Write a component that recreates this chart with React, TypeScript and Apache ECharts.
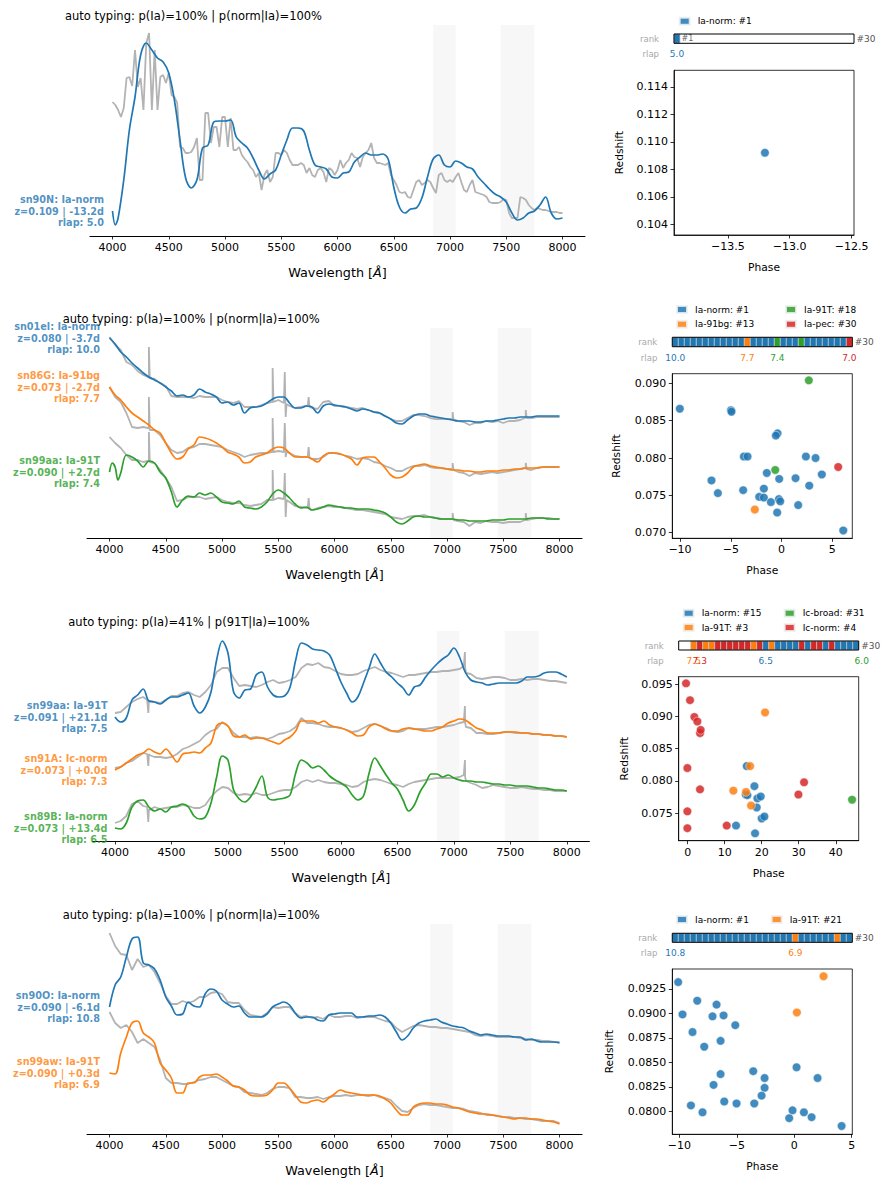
import React, { useEffect, useRef } from "react";
import * as echarts from "echarts";

const FONT = "'DejaVu Sans', 'Liberation Sans', sans-serif";
const TAB = ["#1f77b4", "#ff7f0e", "#2ca02c", "#d62728"];
const OBS_COLOR = "#b3b3b3";
const W_START = 4000;
const WAVE_TICKS = [4000, 4500, 5000, 5500, 6000, 6500, 7000, 7500, 8000];
const BANDS = [[6850, 7050], [7450, 7750]];

// ---------- Row 1 (relative flux, arbitrary units) ----------
const R1_TITLE = "auto typing: p(Ia)=100% | p(norm|Ia)=100%";
// observed, 25 A sampling from 4000
const R1_OBS = [134,131,126,119,128,158,159,150,186,149,158,126,193,203,126,186,126,159,161,153,
163,141,139,133,89,88,83,83,84,89,98,56,56,123,123,93,109,109,89,119,
119,89,118,86,86,89,81,77,74,69,66,59,63,46,61,66,54,59,83,83,
81,86,83,76,71,71,71,73,71,63,68,61,59,66,68,64,54,68,66,61,
66,76,68,73,76,83,79,78,69,79,83,86,93,78,73,73,72,71,73,61,
56,51,44,43,44,39,38,46,54,56,51,53,56,54,48,43,61,63,56,54,
56,54,59,63,54,46,44,51,56,44,43,42,41,39,34,33,33,33,34,37,
36,23,18,18,18,39,38,36,31,28,26,28,27,26,26,25,24,24,24,23,23];
// template, 50 A sampling from 4000
const R1_TPL = [25,18,56,106,139,181,193,186,178,174,163,136,96,58,48,56,88,91,114,115,
115,116,99,93,88,78,66,57,62,66,81,96,108,108,105,86,71,69,67,59,
58,63,64,74,79,83,81,81,82,77,49,29,23,27,28,38,59,77,81,71,
69,75,73,69,67,59,53,47,42,39,34,23,16,18,23,25,31,39,23,17,18];
const R1_TPL_EXTRA = [[4025, 11]];
const R1_LABELS = [["sn90N: Ia-norm", "z=0.109 | -13.2d", "rlap: 5.0"]];
const R1_TYPES = ["Ia-norm: #1"];
const R1_S_IANORM = [[-13.2, 0.1092]];
const R1_RANKS = [0,-1,-1,-1,-1,-1,-1,-1,-1,-1,-1,-1,-1,-1,-1,-1,-1,-1,-1,-1,-1,-1,-1,-1,-1,-1,-1,-1,-1,-1];
const R1_RLAP = [[1, 5.0, 0]];

// ---------- Row 2 ----------
const R2_TITLE = "auto typing: p(Ia)=100% | p(norm|Ia)=100%";
const R2_OBS_A = [201,193,188,176,173,167,163,160,159,155,152,142,141,141,141,140,142,141,141,141,
138,136,135,137,131,131,131,133,135,136,138,135,132,130,131,132,130,129,136,137,
132,132,131,130,129,130,128,126,125,122,119,117,117,120,123,123,122,120,119,119,
119,118,117,116,113,115,115,117,116,117,115,117,117,118,121,120,121,121,121,121,121];
const R2_SPK_A = [[4342,161],[4350,191],[4358,160],[5442,136],[5450,170],[5458,136],[5552,135],[5558,166],[5566,121],[5574,134],[5762,132],[5770,141],[5778,131],[7042,119],[7050,126],[7058,118],[7692,120],[7700,128],[7708,120]];
const R2_OBS_B = [151,141,136,125,111,110,111,110,108,103,95,88,85,86,90,91,94,94,93,92,
91,88,86,84,81,83,84,85,85,86,87,86,85,82,81,81,79,79,81,85,
85,84,82,81,79,80,79,76,75,72,70,67,67,70,72,72,73,71,70,70,
69,69,66,65,62,65,64,65,66,65,66,67,68,69,70,68,70,71,71,71,71];
const R2_SPK_B = [[4342,110],[4350,141],[4358,108],[5442,86],[5450,120],[5458,86],[5552,86],[5558,115],[5566,81],[5574,86],[5762,81],[5770,91],[5778,80],[7042,69],[7050,75],[7058,68],[7692,70],[7700,75],[7708,69]];
const R2_OBS_C = [101,95,90,83,78,78,76,77,75,68,60,51,37,38,41,41,41,39,40,41,
38,36,35,35,33,32,33,34,38,38,40,39,36,32,31,30,28,30,31,32,
31,31,30,29,28,28,27,26,25,24,21,20,19,21,22,22,23,21,20,19,
19,19,17,16,12,16,15,17,16,16,15,16,16,16,18,19,20,20,20,19,19];
const R2_SPK_C = [[4342,77],[4350,106],[4358,76],[5442,38],[5450,68],[5458,38],[5552,39],[5558,65],[5566,21],[5574,38],[5762,30],[5770,40],[5778,29],[7042,19],[7050,25],[7058,18],[7692,18],[7700,25],[7708,18]];
const R2_TPL_A = [200,194,186,181,175,170,165,161,158,155,151,147,142,143,141,143,149,146,144,141,
135,136,133,135,125,130,131,132,135,139,141,141,135,130,130,132,131,125,132,134,
133,132,131,129,127,129,128,126,125,122,119,115,114,118,122,124,124,122,121,120,
119,118,117,117,117,116,116,117,117,118,119,120,120,121,121,121,122,122,122,122,122];
const R2_TPL_B = [151,143,138,131,125,121,117,113,108,105,95,85,79,81,89,93,101,100,98,95,
91,86,84,81,75,76,81,83,85,89,91,90,85,81,81,81,79,76,82,85,
85,84,82,79,73,80,81,81,76,70,63,60,61,65,71,73,74,72,71,70,
69,68,68,67,67,66,66,67,67,67,68,68,69,69,70,70,70,71,71,71,71];
const R2_TPL_C = [66,71,65,83,81,77,71,77,75,66,60,46,31,38,42,41,45,43,45,41,
36,35,34,37,31,30,29,31,36,44,48,45,40,34,30,31,28,29,31,33,
32,31,30,30,29,29,29,28,27,25,21,16,14,17,21,22,21,21,20,19,
19,19,18,18,17,17,17,17,18,18,18,19,19,19,19,20,20,20,19,19,19];
const R2_TPL_C_EXTRA = [[4025,75],[4075,58]];
const R2_LABELS = [
  ["sn01el: Ia-norm", "z=0.080 | -3.7d", "rlap: 10.0"],
  ["sn86G: Ia-91bg", "z=0.073 | -2.7d", "rlap: 7.7"],
  ["sn99aa: Ia-91T", "z=0.090 | +2.7d", "rlap: 7.4"],
];
const R2_TYPES = ["Ia-norm: #1", "Ia-91bg: #13", "Ia-91T: #18", "Ia-pec: #30"];
const R2_S_IANORM = [[-10.02,0.0866],[-4.98,0.0864],[-4.93,0.0862],[-0.39,0.0833],[-0.56,0.0830],[-3.71,0.0802],[-3.35,0.0802],[2.40,0.0802],[3.35,0.0800],[-6.90,0.0770],[-1.45,0.0780],[-0.23,0.0772],[1.38,0.0773],[3.97,0.0778],[2.73,0.0763],[-1.74,0.0759],[-3.78,0.0757],[-6.27,0.0753],[-2.20,0.0748],[-1.74,0.0747],[-0.26,0.0745],[-0.13,0.0742],[-1.05,0.0741],[1.64,0.0737],[-0.43,0.0727],[6.08,0.0703]];
const R2_S_91BG = [[-2.63, 0.0731]];
const R2_S_91T = [[2.69, 0.0904], [-0.62, 0.0784]];
const R2_S_PEC = [[5.58, 0.0788]];
const R2_RANKS = [0,0,0,0,0,0,0,0,0,0,0,0,1,0,0,0,0,2,0,0,0,2,0,0,0,0,0,0,0,3];
const R2_RLAP = [[1,10.0,0],[13,7.7,1],[18,7.4,2],[30,7.0,3]];

// ---------- Row 3 ----------
const R3_TITLE = "auto typing: p(Ia)=41% | p(91T|Ia)=100%";
const R3_OBS_A = [128,129,134,139,142,144,139,139,138,141,145,145,148,149,146,144,149,156,169,173,
173,163,155,156,155,154,156,159,161,158,159,161,164,173,177,176,178,174,173,170,
167,166,166,167,170,172,174,171,169,168,166,164,166,166,167,168,169,169,170,170,
171,172,173,167,163,162,163,164,164,163,161,161,162,161,162,162,161,160,160,159,158];
const R3_SPK_A = [[4285,141],[4295,128],[4305,140],[7088,175],[7098,189],[7108,168]];
const R3_OBS_B = [73,74,78,80,84,88,87,84,84,83,84,87,92,94,97,100,106,110,112,119,
115,108,104,104,103,104,103,102,104,107,108,110,114,123,118,118,117,115,114,114,
113,111,109,110,113,116,117,115,113,110,109,110,113,112,112,112,113,114,114,115,
116,118,118,113,108,108,107,107,108,109,109,108,108,108,107,107,106,106,105,105,104];
const R3_SPK_B = [[4285,87],[4295,75],[4305,86],[7088,119],[7098,135],[7108,114]];
const R3_OBS_C = [18,20,25,37,40,35,32,34,32,33,34,34,36,35,33,33,36,44,50,54,
53,48,46,47,46,48,46,46,48,50,51,51,54,59,61,59,61,59,58,58,
57,56,54,55,59,61,62,61,59,57,56,54,57,59,60,61,62,63,63,63,
63,64,64,58,56,53,54,56,55,54,53,53,54,53,52,52,51,51,50,50,50];
const R3_SPK_C = [[4285,34],[4295,19],[4305,31],[7088,66],[7098,81],[7108,60]];
const R3_TPL_A = [124,119,123,141,146,152,140,139,137,141,144,144,146,148,135,128,134,149,181,200,
188,149,143,151,152,166,169,154,146,144,145,154,181,198,196,192,191,190,186,173,
159,148,139,144,158,173,187,178,169,164,158,153,146,154,156,164,171,177,182,186,
193,184,169,161,159,158,156,157,158,158,158,158,160,164,164,165,168,169,169,167,164];
const R3_TPL_B = [71,74,78,82,86,88,92,89,87,92,86,79,87,88,89,88,93,98,115,118,
115,105,104,106,102,103,103,101,99,97,101,104,110,120,120,120,118,120,116,114,
113,111,108,105,106,114,117,115,112,110,110,112,113,112,111,110,110,112,114,118,
120,122,121,117,113,111,108,108,108,109,109,109,108,108,107,107,106,106,105,105,104];
const R3_TPL_C = [13,12,18,34,40,41,34,30,32,29,34,35,37,34,25,22,24,38,64,85,
81,51,42,39,44,54,65,44,41,42,43,46,68,81,78,73,75,71,65,61,
58,54,46,41,45,68,83,75,66,58,52,41,30,36,49,58,67,67,64,66,
63,61,60,60,59,59,58,57,57,56,56,55,55,55,54,53,53,52,51,51,50];
const R3_LABELS = [
  ["sn99aa: Ia-91T", "z=0.091 | +21.1d", "rlap: 7.5"],
  ["sn91A: Ic-norm", "z=0.073 | +0.0d", "rlap: 7.3"],
  ["sn89B: Ia-norm", "z=0.073 | +13.4d", "rlap: 6.5"],
];
const R3_TYPES = ["Ia-norm: #15", "Ia-91T: #3", "Ic-broad: #31", "Ic-norm: #4"];
const R3_S_IANORM = [[15.95,0.0823],[18.02,0.0792],[15.68,0.0779],[16.13,0.0778],[18.83,0.0773],[19.73,0.0776],[18.65,0.0759],[20.0,0.0742],[20.72,0.0745],[13.06,0.0731],[18.2,0.0719]];
const R3_S_91T = [[20.90,0.0906],[16.85,0.0823],[12.34,0.0785],[15.77,0.0783],[17.12,0.0762]];
const R3_S_ICBROAD = [[44.41, 0.0771]];
const R3_S_ICNORM = [[-0.45,0.0951],[0.63,0.0925],[1.80,0.0899],[2.61,0.0892],[3.33,0.0874],[3.51,0.0879],[-0.09,0.0820],[3.33,0.0787],[-0.09,0.0753],[-0.09,0.0727],[10.54,0.0731],[29.91,0.0779],[31.44,0.0798]];
const R3_RANKS = [-1,-1,1,3,1,1,3,3,3,3,3,3,1,3,0,1,0,0,0,0,3,0,3,3,0,3,0,0,0,0];
const R3_RLAP = [[3,7.5,1],[4,7.3,3],[15,6.5,0],[31,6.0,2]];

// ---------- Row 4 ----------
const R4_TITLE = "auto typing: p(Ia)=100% | p(norm|Ia)=100%";
const R4_OBS_A = [201,188,180,179,164,175,167,169,162,151,138,130,130,133,131,133,137,137,141,142,
140,132,131,131,124,119,118,117,121,127,126,127,127,121,117,118,116,117,115,119,
117,117,118,118,116,117,117,117,115,113,112,106,102,105,108,109,108,107,107,106,
106,105,104,103,102,99,98,99,98,97,97,97,97,96,95,94,94,93,93,92,92];
const R4_OBS_B = [122,111,106,109,102,91,95,91,87,74,56,51,51,50,50,52,54,55,57,57,
54,51,48,47,42,41,40,39,41,45,47,47,46,37,37,36,36,37,35,37,
38,38,39,38,39,39,38,39,37,36,34,28,23,22,26,29,30,29,29,28,
27,26,26,25,23,22,21,19,19,18,17,17,16,16,15,15,14,13,13,13,11];
const R4_TPL_A = [127,149,157,177,195,197,171,169,165,154,137,128,119,120,132,128,127,140,145,143,
134,130,127,128,121,117,117,117,120,127,130,132,129,121,116,117,117,114,113,119,
120,121,121,121,117,117,118,118,119,117,111,102,94,98,106,111,113,114,115,112,
110,108,107,106,103,101,99,100,99,98,98,98,97,97,94,95,93,92,92,92,91];
const R4_TPL_B = [61,60,81,97,111,113,101,97,91,71,64,56,41,41,51,51,57,59,59,60,
57,53,48,47,44,39,38,38,39,44,51,51,46,39,32,31,33,34,32,36,
40,44,42,41,40,39,39,39,38,35,31,24,19,19,27,30,31,31,30,30,
29,27,26,24,22,21,20,20,19,18,17,16,15,16,16,15,15,14,13,12,10];
const R4_LABELS = [
  ["sn90O: Ia-norm", "z=0.090 | -6.1d", "rlap: 10.8"],
  ["sn99aw: Ia-91T", "z=0.090 | +0.3d", "rlap: 6.9"],
];
const R4_TYPES = ["Ia-norm: #1", "Ia-91T: #21"];
const R4_S_IANORM = [[-10.10,0.0932],[-9.72,0.0899],[-8.44,0.0913],[-8.85,0.0881],[-7.83,0.0866],[-7.11,0.0897],[-6.76,0.0909],[-6.15,0.0898],[-6.41,0.0872],[-5.13,0.0888],[-6.41,0.0838],[-7.02,0.0827],[-8.99,0.0806],[-7.98,0.0799],[-6.09,0.0810],[-5.02,0.0808],[-3.57,0.0841],[-2.58,0.0834],[-2.58,0.0824],[-2.84,0.0816],[-3.48,0.0808],[0.20,0.0845],[2.03,0.0834],[-0.15,0.0801],[-0.44,0.0793],[0.84,0.0799],[1.51,0.0794],[4.12,0.0785]];
const R4_S_91T = [[0.23, 0.0901], [2.55, 0.0938]];
const R4_RANKS = [0,0,0,0,0,0,0,0,0,0,0,0,0,0,0,0,0,0,0,0,1,0,0,0,0,0,0,1,0,0];
const R4_RLAP = [[1,10.8,0],[21,6.9,1]];

const pairs = (vals: number[], step: number, extras: number[][] = []) =>
  vals.map((v, i) => [W_START + i * step, v]).concat(extras).sort((a, b) => a[0] - b[0]);

const ROWS = [
  {
    title: R1_TITLE, titleXY: [65, 16],
    spec: { left: 90, top: 25, width: 495, height: 211 },
    obs: [pairs(R1_OBS, 25)],
    tpl: [pairs(R1_TPL, 50, R1_TPL_EXTRA)], labels: R1_LABELS, labelDist: 8,
    scat: { left: 674, top: 70.3, width: 180, height: 164.7 },
    xr: [-13.935, -12.48], xt: [-13.5, -13.0, -12.5], xd: 1,
    yr: [0.10322, 0.1152], yt: [0.104, 0.106, 0.108, 0.11, 0.112, 0.114], yd: 3, yGap: 49.5,
    types: R1_TYPES, pts: [R1_S_IANORM],
    bar: { left: 674, top: 34, width: 180, height: 9.3 }, ranks: R1_RANKS, rlap: R1_RLAP, rlapOff: 10.7,
    legendXY: [[678.7, 22.7]],
  },
  {
    title: R2_TITLE, titleXY: [62.7, 319],
    spec: { left: 87, top: 328, width: 495, height: 210 },
    obs: [pairs(R2_OBS_A, 50, R2_SPK_A), pairs(R2_OBS_B, 50, R2_SPK_B), pairs(R2_OBS_C, 50, R2_SPK_C)],
    tpl: [pairs(R2_TPL_A, 50), pairs(R2_TPL_B, 50), pairs(R2_TPL_C, 50, R2_TPL_C_EXTRA)], labels: R2_LABELS, labelDist: 9,
    scat: { left: 672.3, top: 373.7, width: 180, height: 164.6 },
    xr: [-10.76, 6.97], xt: [-10, -5, 0, 5], xd: 0,
    yr: [0.06925, 0.09129], yt: [0.07, 0.075, 0.08, 0.085, 0.09], yd: 3, yGap: 50.5,
    types: R2_TYPES, pts: [R2_S_IANORM, R2_S_91BG, R2_S_91T, R2_S_PEC],
    bar: { left: 672.3, top: 337.3, width: 180, height: 9.4 }, ranks: R2_RANKS, rlap: R2_RLAP, rlapOff: 11,
    legendXY: [[676, 311], [676, 325.7], [785, 311], [785, 325.7]],
  },
  {
    title: R3_TITLE, titleXY: [68.3, 622],
    spec: { left: 92.4, top: 631, width: 497, height: 210 },
    obs: [pairs(R3_OBS_A, 50, R3_SPK_A), pairs(R3_OBS_B, 50, R3_SPK_B), pairs(R3_OBS_C, 50, R3_SPK_C)],
    tpl: [pairs(R3_TPL_A, 50), pairs(R3_TPL_B, 50), pairs(R3_TPL_C, 50)], labels: R3_LABELS, labelDist: 7,
    scat: { left: 678.7, top: 676.7, width: 180, height: 164 },
    xr: [-2.43, 46.2], xt: [0, 10, 20, 30, 40], xd: 0,
    yr: [0.07076, 0.09613], yt: [0.075, 0.08, 0.085, 0.09, 0.095], yd: 3, yGap: 49,
    types: R3_TYPES, pts: [R3_S_IANORM, R3_S_91T, R3_S_ICBROAD, R3_S_ICNORM],
    bar: { left: 678.7, top: 641, width: 180, height: 9 }, ranks: R3_RANKS, rlap: R3_RLAP, rlapOff: 10.7,
    legendXY: [[682.7, 614.7], [682.7, 629], [783.7, 614.7], [783.7, 629]],
  },
  {
    title: R4_TITLE, titleXY: [62.7, 915],
    spec: { left: 87, top: 924, width: 495, height: 210 },
    obs: [pairs(R4_OBS_A, 50), pairs(R4_OBS_B, 50)],
    tpl: [pairs(R4_TPL_A, 50), pairs(R4_TPL_B, 50)], labels: R4_LABELS, labelDist: 9,
    scat: { left: 672.3, top: 969, width: 180, height: 165.3 },
    xr: [-10.61, 5.05], xt: [-10, -5, 0, 5], xd: 0,
    yr: [0.07765, 0.09454], yt: [0.08, 0.0825, 0.085, 0.0875, 0.09, 0.0925], yd: 4, yGap: 57.5,
    types: R4_TYPES, pts: [R4_S_IANORM, R4_S_91T],
    bar: { left: 672.3, top: 933.3, width: 180, height: 9 }, ranks: R4_RANKS, rlap: R4_RLAP, rlapOff: 11,
    legendXY: [[676, 921], [770.7, 921]],
  },
];

const fmt = (v: number, d: number) => (v < -1e-9 ? "\u2212" : "") + Math.abs(v).toFixed(d);

function buildOption() {
  const grid: any[] = [];
  const xAxis: any[] = [];
  const yAxis: any[] = [];
  const series: any[] = [];
  const legend: any[] = [];
  const graphic: any[] = [];

  ROWS.forEach((row) => {
    // ---- spectrum panel ----
    const gS = grid.length;
    grid.push({ ...row.spec, show: false });
    xAxis.push({
      gridIndex: gS, type: "value", min: 3800, max: 8200,
      axisLine: { show: true, onZero: false, lineStyle: { color: "#000", width: 1 } },
      axisTick: { show: true, customValues: WAVE_TICKS, length: 3.5, lineStyle: { color: "#000", width: 0.8 } },
      axisLabel: { customValues: WAVE_TICKS, formatter: (v: number) => String(Math.round(v)), fontSize: 11, color: "#000", fontFamily: FONT, margin: 6 },
      splitLine: { show: false },
      name: "Wavelength [{i|Å}]", nameLocation: "middle", nameGap: 30,
      nameTextStyle: { fontSize: 12.8, color: "#000", fontFamily: FONT,
        rich: { i: { fontStyle: "italic", fontSize: 12.8, color: "#000", fontFamily: FONT } } },
    });
    yAxis.push({ gridIndex: gS, type: "value", min: 0, max: row.spec.height, show: false });

    row.obs.forEach((d, k) => {
      series.push({
        type: "line", xAxisIndex: gS, yAxisIndex: gS, data: d, showSymbol: false, symbol: "none",
        lineStyle: { color: OBS_COLOR, width: 1.8 }, z: 2, silent: true,
        ...(k === 0 ? { markArea: { silent: true, itemStyle: { color: "#f7f7f7" },
          data: BANDS.map((b) => [{ xAxis: b[0] }, { xAxis: b[1] }]) } } : {}),
      });
    });
    row.tpl.forEach((d, k) => {
      const color = TAB[k];
      series.push({
        type: "line", xAxisIndex: gS, yAxisIndex: gS, data: d, showSymbol: false, symbol: "none",
        smooth: 0.35, lineStyle: { color, width: 1.7 }, z: 3, silent: true,
      });
      series.push({
        type: "scatter", xAxisIndex: gS, yAxisIndex: gS, data: [d[0]], symbolSize: 1, z: 4, silent: true,
        itemStyle: { color: "transparent" },
        label: { show: true, position: "left", distance: row.labelDist, formatter: row.labels[k].join("\n"),
          color, fontWeight: "bold", fontSize: 9.7, lineHeight: 11.7, fontFamily: FONT, align: "right" },
      });
    });

    // ---- scatter panel ----
    const gP = grid.length;
    grid.push({ ...row.scat, show: true, borderColor: "#000", borderWidth: 0.8, backgroundColor: "transparent" });
    xAxis.push({
      gridIndex: gP, type: "value", min: row.xr[0], max: row.xr[1],
      axisLine: { show: true, onZero: false, lineStyle: { color: "#000", width: 0.8 } },
      axisTick: { show: true, customValues: row.xt, length: 3.5, lineStyle: { color: "#000", width: 0.8 } },
      axisLabel: { customValues: row.xt, formatter: (v: number) => fmt(v, row.xd), fontSize: 11, color: "#000", fontFamily: FONT, margin: 6 },
      splitLine: { show: false },
      name: "Phase", nameLocation: "middle", nameGap: 27,
      nameTextStyle: { fontSize: 10.7, color: "#000", fontFamily: FONT },
    });
    yAxis.push({
      gridIndex: gP, type: "value", min: row.yr[0], max: row.yr[1],
      axisLine: { show: true, onZero: false, lineStyle: { color: "#000", width: 0.8 } },
      axisTick: { show: true, customValues: row.yt, length: 3.5, lineStyle: { color: "#000", width: 0.8 } },
      axisLabel: { customValues: row.yt, formatter: (v: number) => fmt(v, row.yd), fontSize: 11, color: "#000", fontFamily: FONT, margin: 6 },
      splitLine: { show: false },
      name: "Redshift", nameLocation: "middle", nameGap: row.yGap,
      nameTextStyle: { fontSize: 10.7, color: "#000", fontFamily: FONT },
    });
    row.pts.forEach((d, k) => {
      series.push({
        type: "scatter", name: row.types[k], xAxisIndex: gP, yAxisIndex: gP, data: d, symbolSize: 8.5, z: 3,
        itemStyle: { color: TAB[k], opacity: 0.85, borderColor: "#f0f0f0", borderWidth: 0.6 },
      });
    });
    row.legendXY.forEach((p, k) => {
      legend.push({
        data: [{ name: row.types[k], icon: "rect" }], left: p[0], top: p[1] - 6, padding: 0,
        itemWidth: 10, itemHeight: 7, itemGap: 0, selectedMode: false,
        textStyle: { fontSize: 9, color: "#000", fontFamily: FONT, padding: [0, 0, 0, 3] },
      });
    });

    // ---- rank bar ----
    const gB = grid.length;
    grid.push({ ...row.bar, show: false });
    xAxis.push({ gridIndex: gB, type: "value", min: 0, max: 30, show: false });
    yAxis.push({ gridIndex: gB, type: "value", min: 0, max: 1, show: false });
    series.push({
      type: "custom", xAxisIndex: gB, yAxisIndex: gB, silent: true, z: 3,
      data: row.ranks.map((t, i) => [i + 1, t]).filter((d) => d[1] >= 0),
      renderItem: (_p: any, api: any) => {
        const r = api.value(0);
        const t = api.value(1);
        const a = api.coord([r - 1, 1]);
        const b = api.coord([r, 0]);
        return { type: "rect", shape: { x: a[0], y: a[1], width: b[0] - a[0], height: b[1] - a[1] },
          style: { fill: TAB[t], stroke: "#c4c4c4", lineWidth: 0.7 } };
      },
    });
    series.push({
      type: "custom", xAxisIndex: gB, yAxisIndex: gB, silent: true, z: 5, data: [[0, 0]],
      renderItem: (_p: any, api: any) => {
        const a = api.coord([0, 1]);
        const b = api.coord([30, 0]);
        return { type: "rect", shape: { x: a[0], y: a[1], width: b[0] - a[0], height: b[1] - a[1] },
          style: { fill: "none", stroke: "#000", lineWidth: 1 } };
      },
    });
    series.push({
      type: "custom", xAxisIndex: gB, yAxisIndex: gB, silent: true, z: 5, data: row.rlap,
      renderItem: (_p: any, api: any) => {
        const r = api.value(0);
        const v = api.value(1);
        const t = api.value(2);
        const a = api.coord([r - 0.5, 0]);
        return { type: "text", x: a[0], y: a[1] + row.rlapOff,
          style: { text: v.toFixed(1), fill: TAB[t], fontSize: 9, fontFamily: FONT,
            align: "center", verticalAlign: "middle", textAlign: "center", textVerticalAlign: "middle" } };
      },
    });

    const bc = row.bar.top + row.bar.height / 2;
    graphic.push({ type: "text", x: row.bar.left - 15, y: bc,
      style: { text: "rank", fill: "#a8a8a8", fontSize: 8.5, fontFamily: FONT, align: "right", verticalAlign: "middle", textAlign: "right", textVerticalAlign: "middle" } });
    graphic.push({ type: "text", x: row.bar.left - 15, y: row.bar.top + row.bar.height + row.rlapOff,
      style: { text: "rlap", fill: "#a8a8a8", fontSize: 8.5, fontFamily: FONT, align: "right", verticalAlign: "middle", textAlign: "right", textVerticalAlign: "middle" } });
    graphic.push({ type: "text", x: row.bar.left + row.bar.width + 2.5, y: bc,
      style: { text: "#30", fill: "#555", fontSize: 9, fontFamily: FONT, align: "left", verticalAlign: "middle", textAlign: "left", textVerticalAlign: "middle" } });
    graphic.push({ type: "text", x: row.titleXY[0], y: row.titleXY[1],
      style: { text: row.title, fill: "#000", fontSize: 11.5, fontFamily: FONT, align: "left", verticalAlign: "middle", textAlign: "left", textVerticalAlign: "middle" } });
  });

  // "#1" marker inside the first rank bar
  const b1 = ROWS[0].bar;
  graphic.push({ type: "text", x: b1.left + 7.5, y: b1.top + b1.height / 2,
    style: { text: "#1", fill: "#666", fontSize: 8, fontFamily: FONT, align: "left", verticalAlign: "middle", textAlign: "left", textVerticalAlign: "middle" } });

  return {
    animation: false,
    backgroundColor: "#fff",
    textStyle: { fontFamily: FONT },
    grid, xAxis, yAxis, series, legend, graphic,
  };
}

export default function App() {
  const ref = useRef<HTMLDivElement>(null);
  useEffect(() => {
    document.body.style.margin = "0";
    if (!ref.current) return;
    const chart = echarts.init(ref.current, null, { renderer: "svg" });
    chart.setOption(buildOption() as any);
    return () => chart.dispose();
  }, []);
  return <div ref={ref} style={{ width: 890, height: 1192 }} />;
}
